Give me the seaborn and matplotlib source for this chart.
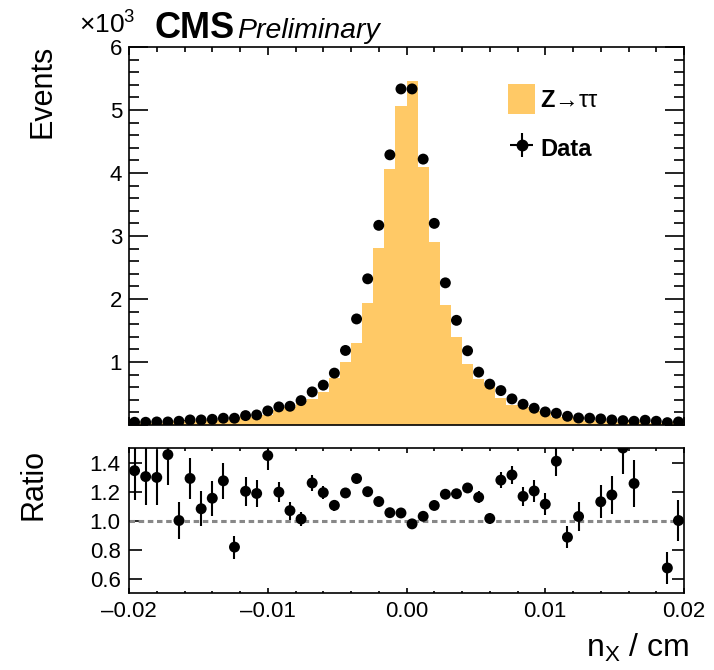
import numpy as np
import pandas as pd
import seaborn as sns
import matplotlib
matplotlib.use("Agg")
import matplotlib.pyplot as plt
from matplotlib.patches import Patch
from matplotlib.ticker import MultipleLocator, FuncFormatter

# 50 bins of n_x between -0.02 and 0.02 cm
bin_edges = np.linspace(-0.02, 0.02, 51)
bin_centers = 0.5 * (bin_edges[:-1] + bin_edges[1:])

data_counts = [43, 43, 48, 48, 59, 80, 80, 90, 107, 107,
               149, 159, 223, 287, 297, 387, 525, 632, 823, 1183,
               1683, 2320, 3169, 4288, 5334, 5334, 4220, 3200, 2256, 1661,
               1178, 839, 648, 546, 414, 329, 266, 207, 186, 138,
               111, 108, 96, 80, 69, 59, 75, 59, 37, 48]

ztautau = [32, 33, 37, 33, 59, 62, 74, 78, 84, 131,
           124, 134, 154, 240, 278, 383, 417, 530, 745, 994,
           1305, 1935, 2802, 4068, 5070, 5460, 4101, 2899, 1910, 1402,
           962, 723, 639, 427, 315, 282, 221, 186, 132, 156,
           108, 58, 85, 68, 46, 47, 38, 30, 55, 48]

df = pd.DataFrame({"x": bin_centers, "data": data_counts, "mc": ztautau})
df["ratio"] = df["data"] / df["mc"]
df["data_err"] = np.sqrt(df["data"])
df["ratio_err"] = df["ratio"] / np.sqrt(df["data"])

sns.set_theme(style="ticks")
plt.rcParams["font.family"] = ["Liberation Sans", "DejaVu Sans"]
plt.rcParams["mathtext.fontset"] = "custom"
plt.rcParams["mathtext.rm"] = "Liberation Sans"
plt.rcParams["mathtext.bf"] = "Liberation Sans:bold"
plt.rcParams["mathtext.it"] = "Liberation Sans:italic"
plt.rcParams["axes.unicode_minus"] = True
plt.rcParams["text.color"] = "black"
plt.rcParams["xtick.color"] = "black"
plt.rcParams["ytick.color"] = "black"
plt.rcParams["axes.labelcolor"] = "black"

orange = "#ffc966"

fig = plt.figure(figsize=(7.14, 6.70), dpi=100)
ax = fig.add_axes([0.1807, 0.3657, 0.7773, 0.5642])
rax = fig.add_axes([0.1807, 0.1149, 0.7773, 0.2164])

# top panel
sns.histplot(data=df, x="x", weights="mc", bins=50, binrange=(-0.02, 0.02),
             element="step", fill=True, color=orange, alpha=1, linewidth=0, ax=ax)
ax.errorbar(df["x"], df["data"], yerr=df["data_err"], fmt="none",
            ecolor="black", elinewidth=1.5)
sns.scatterplot(data=df, x="x", y="data", color="black", s=62,
                edgecolor="none", ax=ax, zorder=5)

ax.set_xlim(-0.02, 0.02)
ax.set_ylim(0, 6000)
ax.yaxis.set_major_locator(MultipleLocator(1000))
ax.yaxis.set_minor_locator(MultipleLocator(200))
ax.xaxis.set_major_locator(MultipleLocator(0.01))
ax.xaxis.set_minor_locator(MultipleLocator(0.002))
ax.yaxis.set_major_formatter(FuncFormatter(lambda v, p: "" if v == 0 else f"{v/1000:.0f}"))
ax.tick_params(axis="x", which="both", labelbottom=False)
ax.tick_params(axis="both", which="both", direction="in", top=True, right=True,
               width=1.2, labelsize=16, pad=5, colors="black")
ax.tick_params(axis="y", which="major", length=13.5)
ax.tick_params(axis="y", which="minor", length=7)
ax.tick_params(axis="x", which="major", length=5.8)
ax.tick_params(axis="x", which="minor", length=3.6)
ax.set_xlabel("")
ax.set_ylabel("")

hist_handle = Patch(facecolor=orange, edgecolor="none")
data_handle = ax.errorbar([], [], xerr=[], yerr=[], fmt="o", color="black",
                          ms=7.5, elinewidth=1.5)
leg = ax.legend([hist_handle, data_handle], [r"$\mathbf{Z}$→ττ", "Data"],
                loc="upper left", bbox_to_anchor=(0.683, 0.902), frameon=False,
                fontsize=17, handlelength=1.15, handleheight=1.55,
                labelspacing=0.85, handletextpad=0.2, borderpad=0, borderaxespad=0)
leg.get_texts()[1].set_fontweight("bold")

# ratio panel
rax.axhline(1.0, color="#888888", lw=2.2, ls=(0, (1.8, 1.2)), zorder=1)
rax.errorbar(df["x"], df["ratio"], yerr=df["ratio_err"], fmt="none",
             ecolor="black", elinewidth=1.5)
sns.scatterplot(data=df, x="x", y="ratio", color="black", s=62,
                edgecolor="none", ax=rax, zorder=5)
rax.set_xlim(-0.02, 0.02)
rax.set_ylim(0.5, 1.5)
rax.set_yticks([0.6, 0.8, 1.0, 1.2, 1.4])
rax.yaxis.set_major_formatter(FuncFormatter(lambda v, p: f"{v:.1f}"))
rax.xaxis.set_major_locator(MultipleLocator(0.01))
rax.xaxis.set_minor_locator(MultipleLocator(0.002))
rax.xaxis.set_major_formatter(FuncFormatter(lambda v, p: f"{v:.2f}".replace("-", "\u2013")))
rax.tick_params(axis="both", which="both", direction="in", top=True, right=True,
                width=1.2, labelsize=16, colors="black")
rax.tick_params(axis="y", which="major", length=9, pad=6)
rax.tick_params(axis="x", which="major", length=3.6, pad=6)
rax.tick_params(axis="x", which="minor", length=1.8)
rax.set_xlabel("")
rax.set_ylabel("")

for a in (ax, rax):
    for sp in a.spines.values():
        sp.set_linewidth(1.2)
        sp.set_color("black")

# labels
fig.text(0.059, 1 - 45 / 670, "Events", rotation=90, ha="center", va="top", fontsize=22)
fig.text(0.047, 1 - 449 / 670, "Ratio", rotation=90, ha="center", va="top", fontsize=22)
fig.text(689 / 714, 1 - 657 / 670, r"n$_{\mathregular{X}}$ / cm", ha="right",
         va="baseline", fontsize=23)
fig.text(79 / 714, 1 - 34 / 670, r"$\times$10$^{\mathregular{3}}$", ha="left",
         va="baseline", fontsize=19)
fig.text(154 / 714, 1 - 38 / 670, "CMS", ha="left", va="baseline",
         fontsize=26, fontweight="bold")
fig.text(237 / 714, 1 - 38 / 670, "Preliminary", ha="left", va="baseline",
         fontsize=20.5, fontstyle="italic")

fig.savefig("out.png", dpi=100)
